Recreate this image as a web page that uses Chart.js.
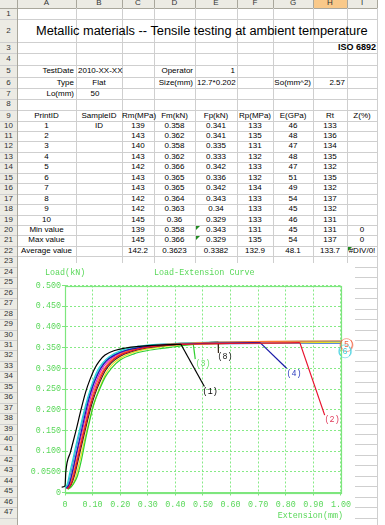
<!DOCTYPE html>
<html><head><meta charset="utf-8">
<script src="https://cdn.jsdelivr.net/npm/chart.js@4.4.0/dist/chart.umd.min.js"></script>
<style>
html,body{margin:0;padding:0;background:#fff;width:385px;height:525px;overflow:hidden;}
#sheet{position:absolute;left:0;top:0;width:385px;height:525px;font-family:"Liberation Sans",Arial,sans-serif;font-size:8px;color:#000;}
.hl{position:absolute;height:1px;background:#c8c8c8;}
.vl{position:absolute;width:1px;background:#c8c8c8;}
.t{position:absolute;white-space:nowrap;}
#chartBox{position:absolute;left:18px;top:263px;width:337px;height:262px;background:#fff;}
</style></head><body>
<div id="sheet"></div>
<div id="chartBox"><canvas id="c" width="337" height="262"></canvas></div>
<script>
// ---------- spreadsheet data ----------
const colLetters = ['A','B','C','D','E','F','G','H','I'];
const titleText = 'Metallic materials -- Tensile testing at ambient temperature';
const standardText = 'ISO 6892';
const infoRow5 = ['TestDate','2010-XX-XX','Operator','1'];
const infoRow6 = ['Type','Flat','Size(mm)','12.7*0.202','So(mm^2)','2.57'];
const infoRow7 = ['Lo(mm)','50'];
const headers = ['PrintID','SampleID','Rm(MPa)','Fm(kN)','Fp(kN)','Rp(MPa)','E(GPa)','Rt','Z(%)'];
const printIds = ['1','2','3','4','5','6','7','8','9','10'];
const sampleIds = ['ID','','','','','','','','',''];
const rmMPa = ['139','143','140','143','142','143','143','142','142','145'];
const fmKN = ['0.358','0.362','0.358','0.362','0.366','0.365','0.365','0.364','0.363','0.36'];
const fpKN = ['0.341','0.341','0.335','0.333','0.342','0.336','0.342','0.343','0.34','0.329'];
const rpMPa = ['133','135','131','132','133','132','134','133','133','133'];
const eGPa = ['46','48','47','48','47','51','49','54','45','46'];
const rtVals = ['133','136','134','135','132','135','132','137','132','131'];
const summaryNames = ['Min value','Max value','Average value'];
const minVals = ['139','0.358','0.343','131','45','131','0'];
const maxVals = ['145','0.366','0.329','135','54','137','0'];
const avgVals = ['142.2','0.3623','0.3382','132.9','48.1','133.7','#DIV/0!'];

// ---------- chart data (Extension mm, Load kN) ----------
const curve1 = [[-0.012,0.013],[0.0,0.016],[0.003,0.05],[0.02,0.098],[0.04,0.15],[0.058,0.2],[0.075,0.243],[0.09,0.272],[0.108,0.3],[0.125,0.318],[0.145,0.332],[0.18,0.343],[0.22,0.349],[0.27,0.353],[0.33,0.356],[0.38,0.357],[0.42,0.358]];
const curve2 = [[0.008,0.009],[0.02,0.018],[0.032,0.042],[0.047,0.085],[0.062,0.128],[0.077,0.17],[0.092,0.21],[0.108,0.243],[0.124,0.27],[0.142,0.295],[0.165,0.315],[0.195,0.33],[0.235,0.341],[0.29,0.35],[0.35,0.355],[0.43,0.358],[0.6,0.36],[0.75,0.361],[0.851,0.362]];
const curve3 = [[0.01,0.008],[0.02,0.012],[0.03,0.02],[0.045,0.04],[0.06,0.08],[0.075,0.13],[0.09,0.175],[0.105,0.215],[0.126,0.25],[0.145,0.278],[0.168,0.3],[0.2,0.32],[0.25,0.335],[0.3,0.343],[0.35,0.348],[0.4,0.352],[0.44,0.356],[0.465,0.358]];
const curve4 = [[0.005,0.01],[0.015,0.02],[0.025,0.045],[0.04,0.09],[0.055,0.135],[0.07,0.18],[0.085,0.222],[0.1,0.255],[0.115,0.28],[0.13,0.3],[0.15,0.318],[0.18,0.332],[0.22,0.343],[0.27,0.35],[0.33,0.355],[0.4,0.358],[0.5,0.36],[0.6,0.361],[0.707,0.362]];
const curve5 = [[0.008,0.01],[0.018,0.02],[0.03,0.045],[0.045,0.088],[0.06,0.13],[0.075,0.172],[0.09,0.212],[0.105,0.245],[0.12,0.272],[0.138,0.295],[0.16,0.315],[0.19,0.33],[0.23,0.342],[0.28,0.35],[0.34,0.356],[0.42,0.36],[0.55,0.363],[0.75,0.365],[1.0,0.366]];
const curve6 = [[0.0,0.012],[0.008,0.02],[0.018,0.05],[0.03,0.085],[0.045,0.13],[0.06,0.172],[0.075,0.212],[0.09,0.246],[0.105,0.275],[0.118,0.295],[0.135,0.312],[0.16,0.328],[0.2,0.342],[0.25,0.351],[0.32,0.357],[0.4,0.36],[0.55,0.363],[0.7,0.364],[0.85,0.365],[1.0,0.365]];
const curve7 = [[0.006,0.01],[0.016,0.02],[0.027,0.045],[0.042,0.09],[0.058,0.135],[0.073,0.178],[0.088,0.218],[0.103,0.25],[0.118,0.276],[0.134,0.298],[0.155,0.316],[0.185,0.331],[0.225,0.342],[0.28,0.351],[0.34,0.357],[0.42,0.36],[0.55,0.362],[0.75,0.364],[1.0,0.365]];
const curve8 = [[0.01,0.009],[0.022,0.018],[0.034,0.04],[0.049,0.082],[0.064,0.125],[0.079,0.167],[0.094,0.206],[0.11,0.24],[0.127,0.268],[0.145,0.293],[0.168,0.313],[0.2,0.329],[0.24,0.34],[0.295,0.349],[0.36,0.355],[0.44,0.359],[0.52,0.362],[0.555,0.364]];
const curve9 = [[0.012,0.008],[0.025,0.016],[0.038,0.035],[0.053,0.075],[0.068,0.118],[0.083,0.16],[0.098,0.198],[0.114,0.232],[0.131,0.262],[0.15,0.29],[0.175,0.312],[0.21,0.328],[0.25,0.339],[0.3,0.347],[0.36,0.353],[0.44,0.357],[0.6,0.36],[0.8,0.362],[1.0,0.363]];
const curve10 = [[0.003,0.01],[0.012,0.022],[0.022,0.05],[0.035,0.09],[0.05,0.135],[0.065,0.178],[0.08,0.218],[0.095,0.25],[0.11,0.277],[0.123,0.295],[0.14,0.312],[0.165,0.327],[0.2,0.339],[0.25,0.348],[0.32,0.354],[0.4,0.357],[0.55,0.359],[0.75,0.36],[1.0,0.36]];
// fracture drops (straight segments) for specimens 1,2,3,4,8
const drop1 = [[0.42,0.358],[0.505,0.256]];
const drop2 = [[0.851,0.362],[0.941,0.187]];
const drop3 = [[0.465,0.358],[0.472,0.322]];
const drop4 = [[0.707,0.362],[0.803,0.3]];
const drop8 = [[0.555,0.364],[0.556,0.337]];
const curves = [curve1,curve2,curve3,curve4,curve5,curve6,curve7,curve8,curve9,curve10];
const drops = [drop1,drop2,drop3,drop4,null,null,null,drop8,null,null];
const curveNames = ['(1)','(2)','(3)','(4)','(5)','(6)','(7)','(8)','(9)','(10)'];
const curveColors = ['#000000','#e8102c','#2fd02f','#1a1aa8','#ff7a30','#20d8d8','#e020d0','#3a2a1a','#e8e020','#5a8ad8'];
const yTickLabels = ['0','0.0500','0.100','0.150','0.200','0.250','0.300','0.350','0.400','0.450','0.500'];
const xTickLabels = ['0','0.10','0.20','0.30','0.40','0.50','0.60','0.70','0.80','0.90','1.00'];
const endLabels = ['(1)','(2)','(3)','(4)','(5)','(6)','(8)'];
const endLabelExt = [0.526,0.968,0.50,0.83,1.02,1.015,0.58];
const endLabelLoad = [0.243,0.175,0.31,0.286,0.356,0.341,0.327];
const endLabelColors = ['#000000','#e03a5a','#6ee06e','#3040c0','#f06040','#40d0e0','#202020'];
const circledLabels = ['(5)','(6)'];

// ---------- spreadsheet layout ----------
const sheet = document.getElementById('sheet');
const colX = [0,17,76,122,154,195,237,273,313,347,377];
const rowTop = [0,8,19,42,53,65,77,88,99,109.5,120.5];
for (let n = 11; n <= 48; n++) rowTop[n] = 120.5 + (n-10)*10.45;
function box(x,y,w,h,bg){const d=document.createElement('div');d.style.cssText=`position:absolute;left:${x}px;top:${y}px;width:${w}px;height:${h}px;background:${bg}`;sheet.appendChild(d);return d;}
function text(str,x,y,w,h,align,extra){const d=document.createElement('div');d.className='t';d.textContent=str;d.style.left=x+'px';d.style.top=y+'px';d.style.width=w+'px';d.style.height=h+'px';d.style.lineHeight=h+'px';d.style.textAlign=align||'left';if(extra)d.style.cssText+=extra;sheet.appendChild(d);return d;}
function cell(row,col,str,align,extra){ // col 1..9 = A..I
  const x=colX[col], w=colX[col+1]-colX[col]; const y=rowTop[row], h=rowTop[row+1]-rowTop[row];
  const pad = align==='right'?'padding-right:2px;box-sizing:border-box;':(align==='left'?'padding-left:2px;box-sizing:border-box;':'');
  return text(str,x,y,w,h,align,pad+(extra||''));
}
box(0,0,377,8,'#ecebe4');
box(0,0,17,525,'#ecebe4');
box(colX[8],0,colX[9]-colX[8],8,'#f9c98a');
for (let n=1;n<=48;n++){const l=document.createElement('div');l.className='hl';l.style.left='0px';l.style.width='377px';l.style.top=Math.round(rowTop[n])+'px';l.style.background=n===1?'#a9a79c':'#cfcfcf';sheet.appendChild(l);}
for (let c=1;c<colX.length;c++){const l=document.createElement('div');l.className='vl';l.style.left=colX[c]+'px';l.style.top='0px';l.style.height='525px';l.style.background=c===1?'#a9a79c':'#cfcfcf';sheet.appendChild(l);}
for (let c=1;c<colX.length-1;c++){const l=document.createElement('div');l.className='vl';l.style.left=colX[c+1]+'px';l.style.top='0px';l.style.height='8px';l.style.background='#a9a79c';sheet.appendChild(l);}
colLetters.forEach((L,i)=>text(L,colX[i+1],-2,colX[i+2]-colX[i+1],10,'center','color:#333;font-size:8px;'));
for (let n=1;n<=47;n++) text(String(n),0,rowTop[n],17,rowTop[n+1]-rowTop[n],'center','color:#333;font-size:8px;');
const tEl = text(titleText,36,rowTop[2],0,rowTop[3]-rowTop[2],'left','width:auto;font-size:13px;');
const tw = tEl.getBoundingClientRect().width; tEl.style.fontSize = (13*332/tw)+'px';
text(standardText,300,rowTop[3],77,rowTop[4]-rowTop[3],'right','font-weight:bold;font-size:9px;padding-right:1px;box-sizing:border-box;');
cell(5,1,infoRow5[0],'right'); cell(5,2,infoRow5[1],'left'); cell(5,4,infoRow5[2],'right'); cell(5,5,infoRow5[3],'right');
cell(6,1,infoRow6[0],'right'); cell(6,2,infoRow6[1],'center'); cell(6,4,infoRow6[2],'right'); cell(6,5,infoRow6[3],'left','overflow:visible;'); cell(6,7,infoRow6[4],'right'); cell(6,8,infoRow6[5],'right');
cell(7,1,infoRow7[0],'right'); cell(7,2,infoRow7[1],'center','padding-right:8px;box-sizing:border-box;');
headers.forEach((h,i)=>cell(9,i+1,h,'center'));
const tableCols=[printIds,sampleIds,rmMPa,fmKN,fpKN,rpMPa,eGPa,rtVals];
for (let r=0;r<10;r++) tableCols.forEach((arr,ci)=>{ if(arr[r]) cell(10+r,ci+1,arr[r],'center'); });
[minVals,maxVals,avgVals].forEach((vals,si)=>{
  cell(20+si,1,summaryNames[si],'center');
  vals.forEach((v,vi)=>cell(20+si,vi+3,v,'center'));
});
function tri(x,y){const d=document.createElement('div');d.style.cssText=`position:absolute;left:${x}px;top:${y}px;width:0;height:0;border-top:4px solid #1f8a1f;border-right:4px solid transparent;`;sheet.appendChild(d);}
tri(colX[5]+1,Math.round(rowTop[20])+1); tri(colX[5]+1,Math.round(rowTop[21])+1); tri(colX[9]+1,Math.round(rowTop[22])+1);

// ---------- chart ----------
const GREEN_TEXT = '#5ad85a';
const GREEN_GRID = '#86ea86';
const GREEN_FRAME = '#7ee67e';
const MONO = '"Liberation Mono","DejaVu Sans Mono",monospace';
Chart.defaults.font.family = MONO;

const annot = {
  id:'annot',
  beforeDatasetsDraw(chart){
    const {ctx, chartArea:a} = chart;
    ctx.save(); ctx.strokeStyle = GREEN_FRAME; ctx.lineWidth = 1.2;
    ctx.strokeRect(Math.round(a.left)+0.5, Math.round(a.top)+0.5, Math.round(a.right-a.left), Math.round(a.bottom-a.top));
    ctx.restore();
  },
  afterDraw(chart){
    const {ctx, scales:{x,y}} = chart;
    ctx.save();
    ctx.font = '8.4px '+MONO; ctx.fillStyle = GREEN_TEXT; ctx.textBaseline='middle';
    ctx.textAlign='left';
    ctx.fillText('Load(kN)', 27, 10);
    ctx.fillText('Load-Extension Curve', 136, 10);
    ctx.textAlign='right';
    ctx.fillText('Extension(mm)', 325, 253);
    ctx.textAlign='center';
    endLabels.forEach((t,i)=>{
      const px = x.getPixelForValue(endLabelExt[i]); const py = y.getPixelForValue(endLabelLoad[i]);
      ctx.fillStyle = endLabelColors[i];
      ctx.fillText(t, px, py);
      if (circledLabels.includes(t)) {
        ctx.strokeStyle = endLabelColors[i]; ctx.globalAlpha = 0.55; ctx.lineWidth = 1;
        ctx.beginPath(); ctx.arc(px, py, 6.5, 0, Math.PI*2); ctx.stroke(); ctx.globalAlpha = 1;
      }
    });
    ctx.restore();
  }
};

const datasets = [];
curves.forEach((c,i)=>{
  datasets.push({
    label: curveNames[i],
    data: c.map(p=>({x:p[0], y:p[1]})),
    borderColor: curveColors[i], backgroundColor: curveColors[i],
    borderWidth: 1.2, pointRadius: 0, fill:false,
    cubicInterpolationMode:'monotone',
    clip: {left:6, top:0, right:0, bottom:6}
  });
  if (drops[i]) datasets.push({
    label: curveNames[i]+' break',
    data: drops[i].map(p=>({x:p[0], y:p[1]})),
    borderColor: curveColors[i], backgroundColor: curveColors[i],
    borderWidth: 1.2, pointRadius: 0, fill:false, tension:0
  });
});

new Chart(document.getElementById('c'), {
  type:'line',
  data:{ datasets },
  options:{
    responsive:false, animation:false, devicePixelRatio:1,
    layout:{padding:{left:0,right:12,top:22.5,bottom:0}},
    plugins:{legend:{display:false}, tooltip:{enabled:false}, title:{display:false}},
    scales:{
      x:{type:'linear', min:0, max:1,
        afterFit(s){ s.height = 32.5; },
        afterBuildTicks(s){ s.ticks = xTickLabels.map((_,i)=>({value:i/10})); },
        ticks:{ autoSkip:false, maxRotation:0, color:GREEN_TEXT, font:{size:8.4, family:MONO}, padding:4,
          callback:(v,i)=>xTickLabels[i] },
        grid:{ color:GREEN_GRID, lineWidth:1, tickLength:3, tickColor:GREEN_FRAME, tickBorderDash:[] },
        border:{ display:true, color:GREEN_FRAME, dash:[2,2] }
      },
      y:{type:'linear', min:0, max:0.5,
        afterFit(s){ s.width = 47; },
        afterBuildTicks(s){ s.ticks = yTickLabels.map((_,i)=>({value:i*0.05})); },
        ticks:{ autoSkip:false, color:GREEN_TEXT, font:{size:8.4, family:MONO}, padding:1,
          callback:(v,i)=>yTickLabels[i] },
        grid:{ color:GREEN_GRID, lineWidth:1, tickLength:3, tickColor:GREEN_FRAME, tickBorderDash:[] },
        border:{ display:true, color:GREEN_FRAME, dash:[2,2] }
      }
    }
  },
  plugins:[annot]
});
</script>
</body></html>
